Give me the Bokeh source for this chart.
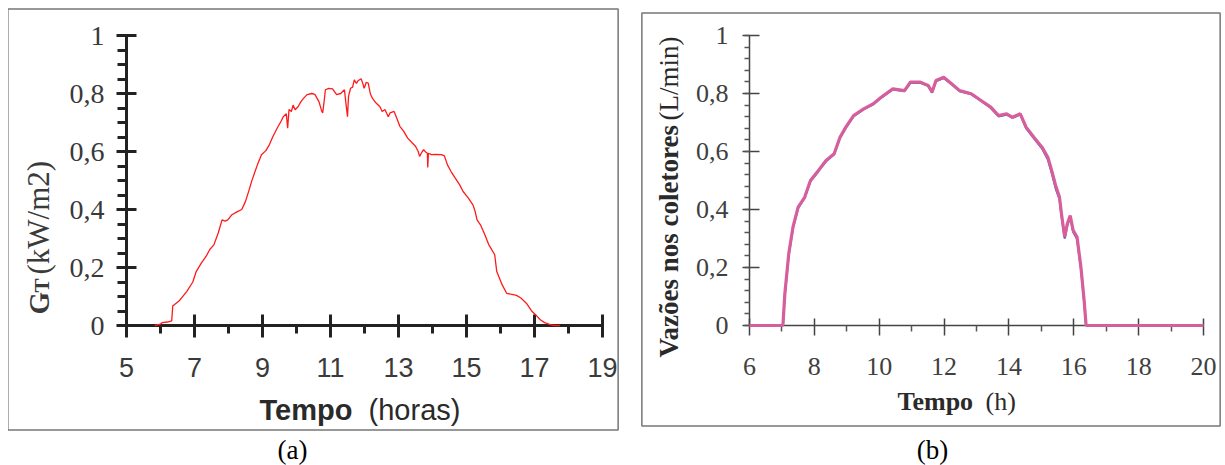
import math
from bokeh.plotting import figure
from bokeh.models import Range1d, FixedTicker, Label, GlobalInlineStyleSheet
from bokeh.layouts import row
from bokeh.embed import file_html
from bokeh.resources import INLINE

# ---------------- data ----------------
# (a) Solar irradiance GT (kW/m2) vs time (hours)
gt_hours = [5.83, 6.00, 6.05, 6.20, 6.33, 6.36, 6.55, 6.77, 6.95, 7.05, 7.20, 7.34, 7.45, 7.57,
            7.70, 7.81, 7.90, 7.98, 8.10, 8.25, 8.39, 8.50, 8.60, 8.68, 8.85, 8.97, 9.10, 9.20,
            9.30, 9.43, 9.55, 9.61, 9.70, 9.74, 9.78, 9.85, 9.90, 9.96, 10.05, 10.13, 10.22,
            10.31, 10.45, 10.54, 10.66, 10.74, 10.77, 10.82, 10.85, 10.95, 11.06, 11.18, 11.30,
            11.41, 11.46, 11.50, 11.53, 11.59, 11.65, 11.70, 11.76, 11.82, 11.90, 11.95, 11.99,
            12.05, 12.11, 12.17, 12.23, 12.34, 12.45, 12.52, 12.60, 12.70, 12.75, 12.87, 12.95,
            13.04, 13.15, 13.27, 13.40, 13.50, 13.58, 13.62, 13.70, 13.74, 13.80, 13.85, 13.86,
            13.88, 13.97, 14.10, 14.26, 14.35, 14.44, 14.55, 14.67, 14.80, 14.90, 15.05, 15.19,
            15.25, 15.31, 15.42, 15.54, 15.65, 15.83, 15.89, 16.05, 16.18, 16.30, 16.47, 16.60,
            16.76, 16.85, 16.93, 17.05, 17.17, 17.30, 17.46, 17.60, 17.75]
gt_values = [0.000, 0.005, 0.010, 0.012, 0.016, 0.067, 0.085, 0.117, 0.150, 0.186, 0.215, 0.238,
             0.262, 0.278, 0.320, 0.364, 0.360, 0.364, 0.382, 0.392, 0.400, 0.428, 0.465, 0.497,
             0.554, 0.589, 0.603, 0.623, 0.650, 0.680, 0.705, 0.720, 0.730, 0.680, 0.745, 0.738,
             0.760, 0.744, 0.755, 0.772, 0.785, 0.796, 0.800, 0.797, 0.772, 0.740, 0.733, 0.780,
             0.813, 0.818, 0.816, 0.796, 0.800, 0.813, 0.760, 0.720, 0.790, 0.818, 0.822, 0.847,
             0.835, 0.845, 0.851, 0.835, 0.818, 0.838, 0.836, 0.800, 0.784, 0.767, 0.755, 0.738,
             0.745, 0.720, 0.733, 0.738, 0.715, 0.687, 0.670, 0.646, 0.630, 0.618, 0.600, 0.583,
             0.600, 0.606, 0.598, 0.594, 0.545, 0.594, 0.589, 0.590, 0.589, 0.585, 0.554, 0.530,
             0.508, 0.485, 0.462, 0.440, 0.416, 0.395, 0.364, 0.345, 0.313, 0.280, 0.244, 0.186,
             0.140, 0.111, 0.108, 0.104, 0.095, 0.077, 0.062, 0.048, 0.035, 0.020, 0.010, 0.003,
             0.000, 0.000]

# (b) Flow in the collectors (L/min) vs time (h): two overlapping series
flow_hours = [6.00, 7.03, 7.09, 7.21, 7.34, 7.50, 7.70, 7.88, 8.12, 8.36, 8.61, 8.79, 8.97, 9.21,
              9.52, 9.81, 10.06, 10.42, 10.78, 10.96, 11.27, 11.51, 11.63, 11.75, 11.99, 12.24,
              12.48, 12.84, 13.14, 13.44, 13.68, 13.93, 14.11, 14.35, 14.53, 14.77, 15.02, 15.20,
              15.32, 15.44, 15.56, 15.62, 15.72, 15.80, 15.89, 15.98, 16.10, 16.22, 16.32, 16.38,
              20.00]
flow_pink = [0.000, 0.000, 0.110, 0.247, 0.339, 0.408, 0.442, 0.500, 0.534, 0.569, 0.592, 0.649,
             0.684, 0.724, 0.747, 0.764, 0.787, 0.816, 0.810, 0.839, 0.839, 0.828, 0.805, 0.845,
             0.856, 0.833, 0.810, 0.799, 0.776, 0.753, 0.724, 0.730, 0.718, 0.730, 0.684, 0.649,
             0.615, 0.580, 0.534, 0.483, 0.442, 0.385, 0.305, 0.351, 0.379, 0.328, 0.305, 0.201,
             0.086, 0.000, 0.000]
flow_blue = [0.000, 0.000, 0.105, 0.242, 0.335, 0.404, 0.440, 0.497, 0.531, 0.566, 0.590, 0.646,
             0.681, 0.721, 0.745, 0.762, 0.785, 0.814, 0.808, 0.836, 0.837, 0.826, 0.803, 0.842,
             0.853, 0.831, 0.808, 0.797, 0.774, 0.750, 0.721, 0.727, 0.716, 0.727, 0.680, 0.645,
             0.610, 0.572, 0.525, 0.472, 0.435, 0.378, 0.300, 0.345, 0.372, 0.322, 0.298, 0.195,
             0.080, 0.000, 0.000]

# ticks
a_xticks = [5, 7, 9, 11, 13, 15, 17, 19]
a_xminor = [6, 8, 10, 12, 14, 16, 18]
a_yticks = [0, 0.2, 0.4, 0.6, 0.8, 1]
a_ylabels = ["0", "0,2", "0,4", "0,6", "0,8", "1"]
a_yminor = [i * 0.05 for i in range(21)]

b_xticks = [6, 8, 10, 12, 14, 16, 18, 20]
b_xminor = [7, 9, 11, 13, 15, 17, 19]
b_yticks = [0, 0.2, 0.4, 0.6, 0.8, 1]
b_ylabels = ["0", "0,2", "0,4", "0,6", "0,8", "1"]
b_yminor = [i * 0.04 for i in range(26)]

SERIF = "Liberation Serif"
SANS = "Liberation Sans"


def add_text(p, **kw):
    # labels live in the bottom side panel so that they are not clipped to the frame
    kw.setdefault("text_baseline", "middle")
    p.add_layout(Label(**kw), "below")


# ---------------- panel (a) ----------------
pa = figure(frame_width=476, frame_height=290, x_range=Range1d(5, 19), y_range=Range1d(0, 1),
            output_backend="svg", toolbar_location=None,
            min_border_left=118, min_border_right=26, min_border_top=26, min_border_bottom=140)
pa.outline_line_color = None
pa.grid.visible = False
pa.background_fill_color = "white"
pa.border_fill_color = "white"

pa.xaxis.ticker = FixedTicker(ticks=a_xticks, minor_ticks=a_xminor)
pa.yaxis.ticker = FixedTicker(ticks=a_yticks, minor_ticks=a_yminor)
pa.yaxis.major_label_overrides = dict(zip(a_yticks, a_ylabels))
for ax in (pa.xaxis[0], pa.yaxis[0]):
    ax.axis_line_width = 3
    ax.axis_line_color = "#222222"
    ax.major_tick_line_width = 3
    ax.major_tick_line_color = "#222222"
    ax.minor_tick_line_width = 3
    ax.minor_tick_line_color = "#222222"
    ax.minor_tick_in = 0
    ax.major_label_text_color = "#3a3a3a"
pa.xaxis.major_tick_in = 11
pa.xaxis.major_tick_out = 12
pa.xaxis.minor_tick_out = 8
pa.xaxis.major_label_text_font = SANS
pa.xaxis.major_label_text_font_size = "27px"
pa.xaxis.major_label_standoff = 20
pa.yaxis.major_tick_in = 10
pa.yaxis.major_tick_out = 10
pa.yaxis.minor_tick_out = 9
pa.yaxis.major_label_text_font = SERIF
pa.yaxis.major_label_text_font_size = "28px"
pa.yaxis.major_label_standoff = 12

ra = pa.line(gt_hours, gt_values, line_color="#ff1a1a", line_width=1.3)
ra.level = "overlay"

# frame box around panel (a)
add_text(pa, x=10.485, y=0.3655, text=" ", text_font_size="1px", text_align="center",
         padding=(305, 210), border_line_color="#777777",
         border_line_width=1.5, background_fill_color=None)
add_text(pa, x=8.91, y=-0.2897, text="Tempo", text_font=SANS, text_font_style="bold",
         text_font_size="29px", text_color="#2a2a2a")
add_text(pa, x=12.12, y=-0.2897, text="(horas)", text_font=SANS,
         text_font_size="29px", text_color="#2a2a2a")
add_text(pa, x=2.441, y=0.038, text="G", text_font=SERIF, text_font_style="bold",
         text_font_size="29px", text_color="#3a3a3a", angle=math.pi / 2)
add_text(pa, x=2.529, y=0.114, text="T", text_font=SERIF, text_font_style="bold",
         text_font_size="21px", text_color="#3a3a3a", angle=math.pi / 2)
add_text(pa, x=2.426, y=0.176, text="(kW/m2)", text_font=SERIF,
         text_font_size="31px", text_color="#3a3a3a", angle=math.pi / 2)
add_text(pa, x=9.882, y=-0.431, text="(a)", text_font=SERIF, text_align="center",
         text_font_size="27px", text_color="black")

# ---------------- panel (b) ----------------
pb = figure(frame_width=454, frame_height=290, x_range=Range1d(6, 20), y_range=Range1d(0, 1),
            output_backend="svg", toolbar_location=None,
            min_border_left=121, min_border_right=19, min_border_top=27, min_border_bottom=139)
pb.outline_line_color = None
pb.grid.visible = False
pb.background_fill_color = "white"
pb.border_fill_color = "white"

pb.xaxis.ticker = FixedTicker(ticks=b_xticks, minor_ticks=b_xminor)
pb.yaxis.ticker = FixedTicker(ticks=b_yticks, minor_ticks=b_yminor)
pb.yaxis.major_label_overrides = dict(zip(b_yticks, b_ylabels))
for ax in (pb.xaxis[0], pb.yaxis[0]):
    ax.axis_line_width = 1.5
    ax.axis_line_color = "#444444"
    ax.major_tick_line_width = 1.5
    ax.major_tick_line_color = "#444444"
    ax.minor_tick_line_width = 1.5
    ax.minor_tick_line_color = "#555555"
    ax.minor_tick_in = 0
    ax.major_label_text_color = "#404040"
pb.xaxis.major_label_text_font = SERIF
pb.xaxis.major_label_text_font_size = "26px"
pb.yaxis.major_label_text_font = SERIF
pb.yaxis.major_label_text_font_size = "26px"
pb.xaxis.major_tick_in = 7
pb.xaxis.major_tick_out = 10
pb.xaxis.minor_tick_out = 6
pb.xaxis.major_label_standoff = 22
pb.yaxis.major_tick_in = 10
pb.yaxis.major_tick_out = 7
pb.yaxis.minor_tick_out = 5
pb.yaxis.major_label_standoff = 14

rb1 = pb.line(flow_hours, flow_blue, line_color="#4b5cc4", line_width=2)
rb2 = pb.line(flow_hours, flow_pink, line_color="#d65f9b", line_width=3.2)
rb1.level = "overlay"
rb2.level = "overlay"

# frame box around panel (b)
add_text(pb, x=11.597, y=0.3655, text=" ", text_font_size="1px", text_align="center",
         padding=(289, 206), border_line_color="#777777",
         border_line_width=1.5, background_fill_color=None)
add_text(pb, x=10.564, y=-0.262, text="Tempo", text_font=SERIF, text_font_style="bold",
         text_font_size="26px", text_color="#2a2a2a")
add_text(pb, x=13.277, y=-0.262, text="(h)", text_font=SERIF,
         text_font_size="26px", text_color="#2a2a2a")
add_text(pb, x=3.533, y=-0.110, text="Vazões nos coletores", text_font=SERIF,
         text_font_style="bold", text_font_size="27px", text_color="#2a2a2a",
         angle=math.pi / 2)
add_text(pb, x=3.533, y=0.707, text="(L/min)", text_font=SERIF,
         text_font_size="27px", text_color="#2a2a2a", angle=math.pi / 2)
add_text(pb, x=11.643, y=-0.4276, text="(b)", text_font=SERIF, text_align="center",
         text_font_size="27px", text_color="black")

layout = row(pa, pb, margin=(8, 0, 0, 8),
             stylesheets=[GlobalInlineStyleSheet(css="html, body { overflow: hidden; }")])

open("out.html", "w").write(file_html(layout, INLINE))
